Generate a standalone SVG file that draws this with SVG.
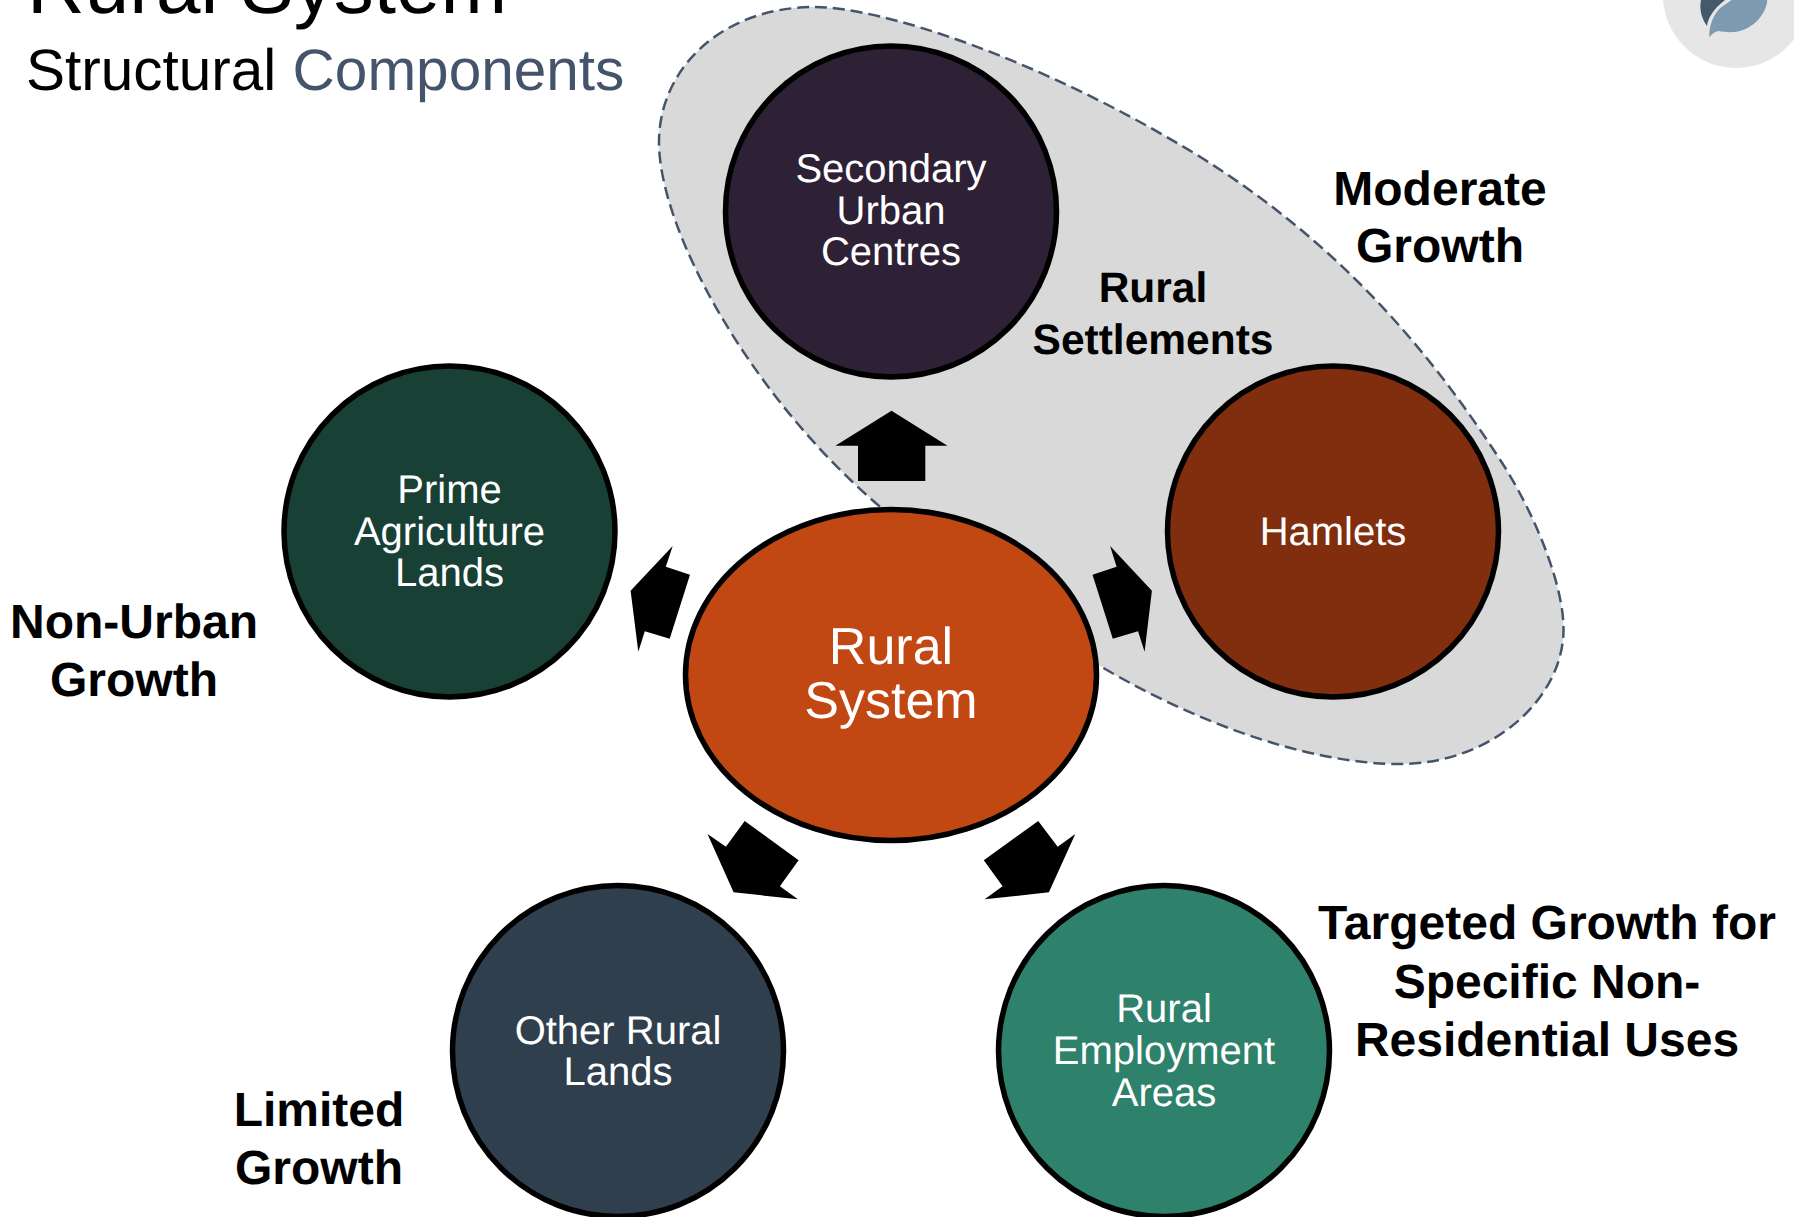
<svg xmlns="http://www.w3.org/2000/svg" width="1794" height="1217" viewBox="0 0 1794 1217">
<style>
text{font-family:"Liberation Sans",Arial,sans-serif;text-anchor:middle;text-rendering:geometricPrecision}
.n{fill:#fff;font-size:40px}
.l{fill:#000;font-size:48px;font-weight:bold}
.c{stroke:#000;stroke-width:5.5}
.a{fill:#000}
</style>
<rect width="1794" height="1217" fill="#fff"/>
<g id="title">
<text x="27" y="13" font-size="80" style="text-anchor:start" fill="#000">Rural System</text>
<text x="26" y="90" font-size="58.500" style="text-anchor:start" fill="#000">Structural <tspan fill="#44546a">Components</tspan></text>
</g>
<g id="logo">
<circle cx="1736" cy="-5" r="73" fill="#e6e6e6"/>
<path d="M1701 0C1699 10 1702 19 1707 26C1708 19 1712 10 1725 0Z" fill="#44596b"/>
<path d="M1709.3 37.3C1709 26 1713 15 1720 8.3C1724 5 1728 3 1731.7 0L1767.3 0C1767 5 1765 10 1763 13C1758 22 1750 28 1740 31C1732 33 1725 32 1718.3 31C1714 32 1711 35 1709.3 37.3Z" fill="#7d9ab0"/>
</g>
<g id="rural-settlements-area">
<path d="M815 7C880 7 1040 58 1202 158C1340 245 1430 350 1506 469C1540 525 1564 590 1563.500 630C1563 700 1490 764 1400 764C1300 764 1180 715 1090 660L878 505C750 395 659 230 659 142C659 70 720 7 815 7Z" fill="#d9d9d9" stroke="#44546a" stroke-width="2.500" stroke-dasharray="12 6"/>
</g>
<g id="connectors">
<polygon class="a" points="891.500,410.700 947.500,445.700 925.300,445.700 925.300,481 858,481 858,445.700 835.400,445.700"/>
<polygon class="a" points="672.700,546 665.800,566.700 690,574.700 669.700,638.700 644.800,631.300 638.300,651.700 630.600,590.700"/>
<polygon class="a" points="1110.100,546 1116.600,566.700 1092.500,574.700 1112.800,638.700 1138,631.300 1144.600,651.700 1151.900,590.700"/>
<polygon class="a" points="744.700,821 798.600,860.300 779.900,886.300 797.900,899.300 733.600,892.300 707.500,834 725.900,846.700"/>
<polygon class="a" points="1038.200,821 1057.700,846.700 1075.300,834 1048.900,892.300 984.600,899.300 1002.600,886.300 983.800,860.300"/>
</g>
<g id="secondary-urban-centres">
<circle class="c" cx="891" cy="211.500" r="165.500" fill="#2e2035"/>
<text class="n" x="891"><tspan x="891" y="182">Secondary</tspan><tspan x="891" y="223.500">Urban</tspan><tspan x="891" y="265">Centres</tspan></text>
</g>
<g id="hamlets">
<circle class="c" cx="1333" cy="531.500" r="165.500" fill="#802e0e"/>
<text class="n" x="1333" y="544.500">Hamlets</text>
</g>
<g id="prime-agriculture-lands">
<circle class="c" cx="449.500" cy="531.500" r="165.500" fill="#184035"/>
<text class="n"><tspan x="449.500" y="503">Prime</tspan><tspan x="449.500" y="544.500">Agriculture</tspan><tspan x="449.500" y="586">Lands</tspan></text>
</g>
<g id="other-rural-lands">
<circle class="c" cx="618" cy="1051" r="165.500" fill="#303f4e"/>
<text class="n"><tspan x="618" y="1043.500">Other Rural</tspan><tspan x="618" y="1085">Lands</tspan></text>
</g>
<g id="rural-employment-areas">
<circle class="c" cx="1164" cy="1051" r="165.500" fill="#2e816a"/>
<text class="n"><tspan x="1164" y="1022">Rural</tspan><tspan x="1164" y="1064">Employment</tspan><tspan x="1164" y="1105.500">Areas</tspan></text>
</g>
<g id="rural-system">
<ellipse class="c" cx="891" cy="675" rx="205.500" ry="165.500" fill="#c24813"/>
<text fill="#fff" font-size="52"><tspan x="891" y="664">Rural</tspan><tspan x="891" y="718">System</tspan></text>
</g>
<g id="labels">
<text class="l"><tspan x="1440" y="205">Moderate</tspan><tspan x="1440" y="262">Growth</tspan></text>
<text class="l" style="font-size:42.500px"><tspan x="1153" y="302">Rural</tspan><tspan x="1153" y="354">Settlements</tspan></text>
<text class="l"><tspan x="134" y="638">Non-Urban</tspan><tspan x="134" y="696">Growth</tspan></text>
<text class="l"><tspan x="319" y="1125.500">Limited</tspan><tspan x="319" y="1183.500">Growth</tspan></text>
<text class="l"><tspan x="1547" y="939">Targeted Growth for</tspan><tspan x="1547" y="997.500">Specific Non-</tspan><tspan x="1547" y="1055.500">Residential Uses</tspan></text>
</g>
</svg>
